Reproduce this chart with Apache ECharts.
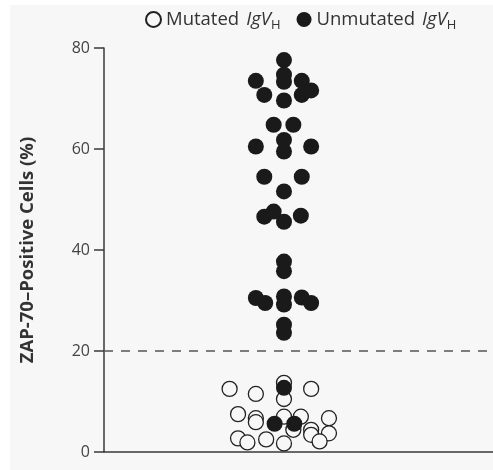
<!DOCTYPE html>
<html>
<head>
<meta charset="utf-8">
<script src="https://cdn.jsdelivr.net/npm/echarts@6/dist/echarts.min.js"></script>
<style>
html,body{margin:0;padding:0;background:#ffffff;width:493px;height:470px;overflow:hidden;}
#c{position:absolute;left:10px;top:5px;width:483px;height:465px;background:#f7f7f7;}
</style>
</head>
<body>
<div id="c"></div>
<script>
// Y-axis ticks
const yTicks = [0, 20, 40, 60, 80];
const threshold = 20;
// Mutated IgVH (open circles): horizontal swarm offset (dot units) and ZAP-70 %
const mutatedX = [-5.8, -3.0, 0.0, 0.0, 2.9, -4.9, -3.0, -3.0, 0.0, 1.8, 4.8, 2.9, 2.9, 4.8, -4.9, -3.9, -1.9, 0.0, 3.8, 1.0];
const mutatedY = [12.5, 11.5, 13.7, 10.5, 12.5, 7.5, 6.7, 5.9, 7.0, 7.0, 6.7, 4.4, 3.4, 3.7, 2.7, 1.9, 2.5, 1.7, 2.1, 4.4];
// Unmutated IgVH (filled circles)
const unmutatedX = [0.0, -3.0, 0.0, 0.0, 1.9, 2.9, -2.1, 0.0, 1.9, -1.1, 1.0, -3.0, 0.0, 0.0, 2.9, -2.1, 1.9, 0.0, -2.1, -1.1, 0.0, 1.8, 0.0, 0.0, -3.0, -2.0, 0.0, 0.0, 1.9, 2.9, 0.0, 0.0, 0.0, -1.0, 1.1];
const unmutatedY = [77.6, 73.5, 74.7, 73.3, 73.5, 71.6, 70.7, 69.6, 70.7, 64.8, 64.8, 60.5, 61.8, 59.5, 60.5, 54.5, 54.5, 51.6, 46.6, 47.6, 45.6, 46.8, 37.7, 35.8, 30.5, 29.5, 30.8, 29.2, 30.6, 29.5, 25.2, 23.6, 12.7, 5.6, 5.6];

const zip = (xs, ys) => xs.map((x, i) => [x, ys[i]]);

const chart = echarts.init(document.getElementById('c'), null, {renderer: 'canvas'});
const font = '"Open Sans", "Noto Sans", sans-serif';
const legendRich = {
  n: {fontFamily: font, fontSize: 18.5, color: '#333'},
  i: {fontFamily: font, fontSize: 18.5, fontStyle: 'italic', color: '#333', padding: [0, 0, 0, 7]},
  s: {fontFamily: font, fontSize: 13, color: '#333', padding: [11, 0, 0, 0]}
};
chart.setOption({
  animation: false,
  backgroundColor: '#f7f7f7',
  legend: {
    top: 0,
    left: 130,
    itemGap: 16,
    itemWidth: 15,
    itemHeight: 15,
    icon: 'circle',
    data: ['Mutated', 'Unmutated'],
    formatter: name => '{n|' + name + '}{i|IgV}{s|H}',
    textStyle: {rich: legendRich}
  },
  grid: {left: 94, right: 0, top: 43, bottom: 18},
  xAxis: {
    type: 'value',
    min: -19.2,
    max: 22.3,
    axisLine: {show: true, onZero: false, lineStyle: {color: '#3a3a3a', width: 1.5}},
    axisTick: {show: false},
    axisLabel: {show: false},
    splitLine: {show: false}
  },
  yAxis: {
    type: 'value',
    min: yTicks[0],
    max: yTicks[yTicks.length - 1],
    interval: 20,
    name: 'ZAP-70–Positive Cells (%)',
    nameLocation: 'middle',
    nameGap: 67,
    nameTextStyle: {fontFamily: font, fontSize: 18.5, fontWeight: 'bold', color: '#333'},
    axisLine: {show: true, onZero: false, lineStyle: {color: '#3a3a3a', width: 1.5}},
    axisTick: {show: true, length: 10, lineStyle: {color: '#3a3a3a', width: 1.5}},
    axisLabel: {margin: 14, fontFamily: font, fontSize: 16, color: '#444'},
    splitLine: {show: false}
  },
  series: [
    {
      name: 'Mutated',
      type: 'scatter',
      symbol: 'circle',
      symbolSize: 15,
      itemStyle: {color: '#f7f7f7', borderColor: '#222', borderWidth: 1.3, opacity: 1},
      data: zip(mutatedX, mutatedY),
      markLine: {
        silent: true,
        symbol: ['none', 'none'],
        label: {show: false},
        lineStyle: {color: '#555', width: 1.5, type: [9, 8]},
        data: [{yAxis: threshold}]
      },
      z: 2
    },
    {
      name: 'Unmutated',
      type: 'scatter',
      symbol: 'circle',
      symbolSize: 16,
      itemStyle: {color: '#1a1a1a', opacity: 1},
      data: zip(unmutatedX, unmutatedY),
      z: 3
    }
  ]
});
</script>
</body>
</html>
